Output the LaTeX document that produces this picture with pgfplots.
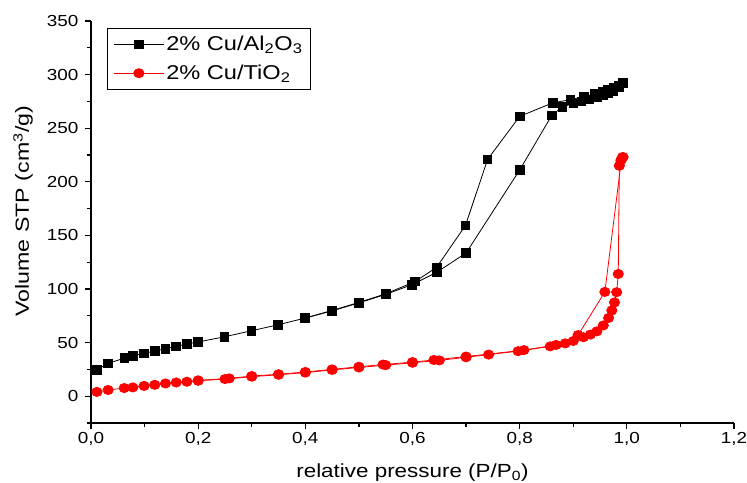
\documentclass[border=0pt]{standalone}
\usepackage{fontspec}
\setmainfont{Liberation Sans}
\usepackage{graphicx}
\usepackage{pgfplots}
\pgfplotsset{compat=1.18}
\newcommand{\sx}[1]{\scalebox{1.18}[1]{#1}}

\pgfplotstableread{
x y
0.011 24.5
0.032 30.6
0.062 35.5
0.078 37.5
0.099 40
0.119 42.2
0.139 44.2
0.159 46.5
0.179 48.7
0.200 50.6
0.249 55.4
0.299 61
0.349 66.6
0.399 72.8
0.450 79.6
0.500 87
0.550 95
0.599 104
0.645 115.5
0.700 133.6
0.800 211
0.860 262
0.880 270
0.900 273
0.915 275
0.930 277
0.945 279
0.955 281
0.965 283
0.975 285
0.985 288
0.993 292
}\alads

\pgfplotstableread{
x y
0.993 292
0.985 290
0.975 288
0.965 286
0.955 284
0.940 282
0.920 279.5
0.895 276.6
0.862 273.7
0.800 261
0.740 220.8
0.699 159.4
0.645 120.2
0.605 107
0.550 95.5
0.500 87.5
0.450 80
0.400 73
}\aldes

\pgfplotstableread{
x y
0.011 4
0.032 5.8
0.062 7.6
0.078 8.2
0.099 9.6
0.119 10.6
0.139 11.9
0.159 12.8
0.179 13.5
0.200 14.4
0.250 16
0.300 18.2
0.350 20
0.400 22
0.450 24.5
0.500 26.8
0.550 29
0.600 31.2
0.650 33.4
0.700 36.3
0.742 38.8
0.797 42
0.857 46.5
0.885 49.3
0.900 51.5
0.919 55
0.932 57.5
0.944 60.5
0.956 66
0.966 73
0.972 80
0.977 87.5
0.981 97
0.984 114
0.986 215
0.989 220
0.992 223
}\tiads

\pgfplotstableread{
x y
0.993 223
0.990 221
0.959 97.3
0.909 57
0.868 47.8
0.808 43
0.700 37
0.640 33.8
0.600 31.8
0.545 29.5
0.500 27.5
0.450 25
0.400 22.6
0.350 20.5
0.300 18.8
0.258 16.6
0.200 14.8
}\tides

\begin{document}
\begin{tikzpicture}
\begin{axis}[
  scale only axis, width=643pt, height=402pt,
  xmin=0, xmax=1.2, ymin=-25, ymax=350,
  axis x line*=bottom, axis y line*=left,
  axis line style={line width=1.2pt, -},
  tick align=outside,
  major tick length=6pt, minor tick length=4pt,
  every tick/.style={line width=1.2pt, black},
  xtick={0,0.2,0.4,0.6,0.8,1.0,1.2},
  xticklabels={{\sx{0,0}},{\sx{0,2}},{\sx{0,4}},{\sx{0,6}},{\sx{0,8}},{\sx{1,0}},{\sx{1,2}}},
  minor xtick={0.1,0.3,0.5,0.7,0.9,1.1},
  ytick={0,50,100,150,200,250,300,350},
  yticklabels={{\sx{0}},{\sx{50}},{\sx{100}},{\sx{150}},{\sx{200}},{\sx{250}},{\sx{300}},{\sx{350}}},
  minor ytick={-25,25,75,125,175,225,275,325},
  ticklabel style={font=\fontsize{16}{19}\selectfont},
  yticklabel style={xshift=-3pt},
  xlabel={\sx{relative pressure (P/P\textsubscript{0})}},
  ylabel={\scalebox{1.22}[1]{Volume STP (cm\textsuperscript{3}/g)}},
  label style={font=\fontsize{19}{22}\selectfont},
  xlabel style={at={(axis description cs:0.5,0)}, anchor=base, yshift=-54pt},
  ylabel style={at={(axis description cs:0,0.527)}, anchor=base, rotate=0, yshift=62pt},
  legend cell align=left,
  legend style={at={(rel axis cs:0.025,0.983)}, anchor=north west, draw=black, line width=0.8pt,
    font=\fontsize{20}{23}\selectfont, row sep=9pt, inner xsep=6pt, inner ysep=6pt},
  legend image code/.code={\draw[mark repeat=2,mark phase=2] plot coordinates {(0pt,0pt) (25pt,0pt) (50pt,0pt)};},
]
\addplot[black, line width=0.8pt, mark=square*, mark size=4.3pt] table {\alads};
\addlegendentry{\sx{2\% Cu/Al\textsubscript{2}O\textsubscript{3}}}
\addplot[red, line width=0.8pt, mark=*, mark size=4.6pt, mark options={xscale=1.12}] table {\tiads};
\addlegendentry{\sx{2\% Cu/TiO\textsubscript{2}}}
\addplot[black, line width=0.8pt, mark=square*, mark size=4.3pt, forget plot] table {\aldes};
\addplot[red, line width=0.8pt, mark=*, mark size=4.6pt, mark options={xscale=1.12}, forget plot] table {\tides};
\end{axis}
\pgfresetboundingbox
\path[use as bounding box] (-91pt,-59pt) rectangle (656pt,423pt);
\end{tikzpicture}
\end{document}
